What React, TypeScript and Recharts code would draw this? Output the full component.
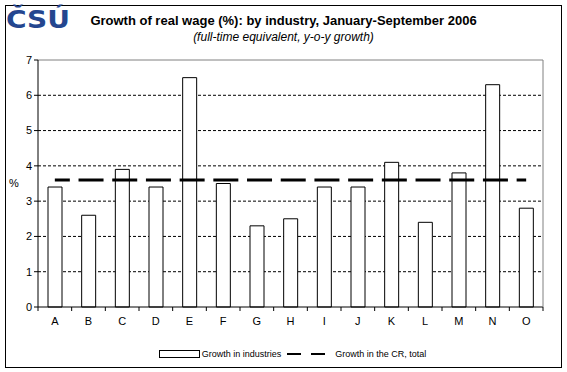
import {
  Bar,
  CartesianGrid,
  ComposedChart,
  Line,
  ReferenceLine,
  XAxis,
  YAxis,
} from 'recharts';

const industries = ['A', 'B', 'C', 'D', 'E', 'F', 'G', 'H', 'I', 'J', 'K', 'L', 'M', 'N', 'O'];
const industryGrowth = [3.4, 2.6, 3.9, 3.4, 6.5, 3.5, 2.3, 2.5, 3.4, 3.4, 4.1, 2.4, 3.8, 6.3, 2.8];
const crTotal = 3.6;
const yTicks = [0, 1, 2, 3, 4, 5, 6, 7];

const data = industries.map((name, i) => ({
  name,
  growth: industryGrowth[i],
  total: crTotal,
}));

const FONT = '"Liberation Sans", Arial, sans-serif';
const BAND = 505 / industries.length;

function CategoryTick(props: any) {
  const { x, y, payload, index } = props;
  const isLast = index === industries.length - 1;
  return (
    <g>
      <line x1={x - BAND / 2} x2={x - BAND / 2} y1={y - 8} y2={y - 4} stroke="#000" />
      {isLast && <line x1={x + BAND / 2} x2={x + BAND / 2} y1={y - 8} y2={y - 4} stroke="#000" />}
      <text x={x} y={y + 10} textAnchor="middle" fontSize={11} fontFamily={FONT} fill="#000">
        {payload.value}
      </text>
    </g>
  );
}

function LegendBox() {
  return (
    <div
      style={{
        position: 'absolute',
        left: 9,
        top: 349,
        width: 567,
        display: 'flex',
        justifyContent: 'center',
        alignItems: 'center',
        fontFamily: FONT,
        fontSize: 9,
        color: '#000',
        gap: 2,
      }}
    >
      <svg width={41} height={8}>
        <rect x={0.5} y={0.5} width={40} height={7} fill="#fff" stroke="#000" />
      </svg>
      <span>Growth in industries</span>
      <svg width={44} height={8} style={{ marginLeft: 2 }}>
        <line x1={2} x2={16} y1={4} y2={4} stroke="#000" strokeWidth={2} />
        <line x1={26} x2={40} y1={4} y2={4} stroke="#000" strokeWidth={2} />
      </svg>
      <span style={{ marginLeft: 4 }}>Growth in the CR, total</span>
    </div>
  );
}

export default function App() {
  return (
    <div style={{ position: 'absolute', left: 0, top: 0, width: 567, height: 372, background: '#fff' }}>
      <div
        style={{
          position: 'absolute',
          left: 5,
          top: 5,
          width: 555,
          height: 361,
          border: '1px solid #000',
        }}
      />
      <svg style={{ position: 'absolute', left: 0, top: 0, overflow: 'visible' }} width={90} height={40}>
        <text
          x={6}
          y={28}
          fontFamily='"DejaVu Sans", sans-serif'
          fontWeight="bold"
          fontSize={25}
          fill="#24468f"
          textLength={64}
          lengthAdjust="spacingAndGlyphs"
        >
          ČSÚ
        </text>
      </svg>
      <div
        style={{
          position: 'absolute',
          left: 0,
          width: 567,
          top: 13,
          textAlign: 'center',
          fontFamily: FONT,
          fontWeight: 'bold',
          fontSize: 13,
        }}
      >
        Growth of real wage (%): by industry, January-September 2006
      </div>
      <div
        style={{
          position: 'absolute',
          left: 0,
          width: 567,
          top: 30,
          textAlign: 'center',
          fontFamily: FONT,
          fontStyle: 'italic',
          fontSize: 12,
        }}
      >
        (full-time equivalent, y-o-y growth)
      </div>
      <div style={{ position: 'absolute', left: 0, top: 0 }}>
        <ComposedChart
          width={567}
          height={372}
          data={data}
          margin={{ top: 60, right: 23, bottom: 45, left: 8 }}
          barCategoryGap={0}
        >
          <CartesianGrid
            vertical={false}
            stroke="#000"
            strokeDasharray="3 2"
            horizontalValues={[1, 2, 3, 4, 5, 6]}
          />
          <XAxis
            dataKey="name"
            height={20}
            axisLine={{ stroke: '#000' }}
            tickLine={false}
            tick={<CategoryTick />}
            interval={0}
          />
          <YAxis
            width={30}
            domain={[0, 7]}
            ticks={yTicks}
            interval={0}
            axisLine={{ stroke: '#000' }}
            tickLine={{ stroke: '#000' }}
            tickSize={4}
            tick={{ fontSize: 11, fontFamily: FONT, fill: '#000' }}
            label={{ value: '%', position: 'insideLeft', offset: 1, fontSize: 11, fontFamily: FONT, fill: '#000' }}
          />
          <YAxis
            yAxisId="frame"
            orientation="right"
            width={1}
            domain={[0, 7]}
            tick={false}
            tickLine={false}
            axisLine={{ stroke: '#808080' }}
          />
          <ReferenceLine y={7} stroke="#808080" />
          <Bar
            dataKey="growth"
            name="Growth in industries"
            fill="#fff"
            stroke="#000"
            strokeWidth={1}
            barSize={14}
            isAnimationActive={false}
          />
          <Line
            dataKey="total"
            name="Growth in the CR, total"
            stroke="#000"
            strokeWidth={3}
            strokeDasharray="25 8.7"
            strokeDashoffset={10}
            dot={false}
            activeDot={false}
            isAnimationActive={false}
          />
        </ComposedChart>
      </div>
      <LegendBox />
    </div>
  );
}
